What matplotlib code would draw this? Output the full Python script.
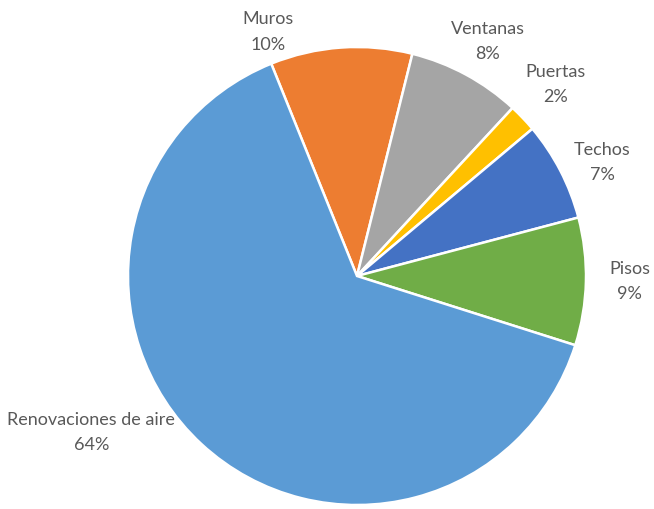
import matplotlib.pyplot as plt

# datos del gráfico (porcentajes de pérdidas de calor)
categorias = ["Muros", "Ventanas", "Puertas", "Techos", "Pisos", "Renovaciones de aire"]
valores = [10, 8, 2, 7, 9, 64]
colores = ["#ED7D31", "#A5A5A5", "#FFC000", "#4472C4", "#70AD47", "#5B9BD5"]

# posición de cada etiqueta (coordenadas del eje, radio = 1)
pos_etiquetas = [(-0.39, 1.07), (0.57, 1.03), (0.865, 0.84),
                 (1.07, 0.50), (1.19, -0.02), (-1.16, -0.68)]

plt.rcParams["font.family"] = ["Lato", "DejaVu Sans"]

fig = plt.figure(figsize=(6.54, 5.10), dpi=100)
cx, cy, r = 357, 233, 229  # centro y radio en píxeles
ax = fig.add_axes([(cx - r) / 654, (cy - r) / 510, 2 * r / 654, 2 * r / 510])

ax.pie(
    valores,
    colors=colores,
    startangle=112,
    counterclock=False,
    radius=1,
    wedgeprops=dict(edgecolor="white", linewidth=1.8),
)
ax.set_xlim(-1, 1)
ax.set_ylim(-1, 1)
ax.set_aspect("auto")
ax.axis("off")

total = sum(valores)
for nombre, v, (x, y) in zip(categorias, valores, pos_etiquetas):
    ax.text(x, y, f"{nombre}\n{v / total:.0%}", ha="center", va="center",
            fontsize=13, color="#595959", linespacing=1.7, clip_on=False)

fig.savefig("out.png", dpi=100, facecolor="white")
